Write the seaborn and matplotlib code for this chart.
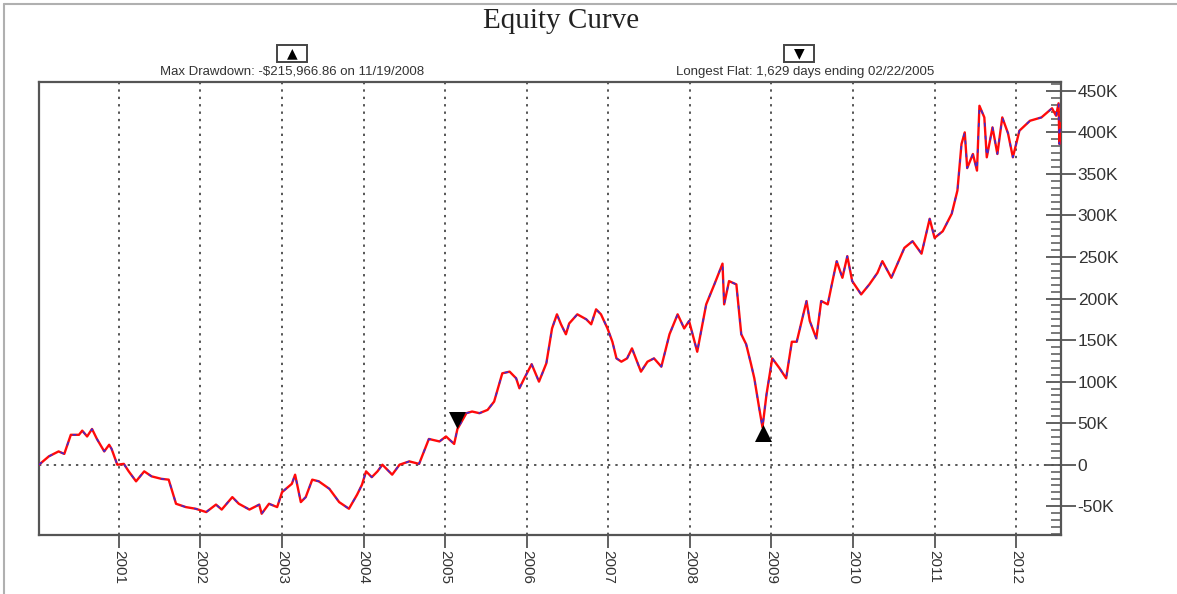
import matplotlib
matplotlib.use("Agg")
import matplotlib.pyplot as plt
from matplotlib.lines import Line2D
from matplotlib.patches import Rectangle
from matplotlib.ticker import AutoMinorLocator
import seaborn as sns
import pandas as pd

# equity curve (decimal year, equity in $K)
years = [2000.02, 2000.14, 2000.26, 2000.33, 2000.41, 2000.51, 2000.55, 2000.61, 2000.67, 2000.73, 2000.82, 2000.88, 2000.91, 2000.98,
         2001.06, 2001.12, 2001.21, 2001.31, 2001.40, 2001.52, 2001.61, 2001.70, 2001.82, 2001.94,
         2002.07, 2002.19, 2002.26, 2002.39, 2002.47, 2002.60, 2002.72, 2002.75, 2002.84, 2002.94,
         2003.00, 2003.12, 2003.16, 2003.23, 2003.29, 2003.37, 2003.45, 2003.58, 2003.70, 2003.82, 2003.92, 2003.98,
         2004.03, 2004.10, 2004.17, 2004.23, 2004.35, 2004.44, 2004.56, 2004.68, 2004.80, 2004.93,
         2005.01, 2005.11, 2005.15, 2005.26, 2005.33, 2005.42, 2005.52, 2005.60, 2005.70, 2005.79, 2005.87, 2005.91, 2005.97,
         2006.06, 2006.15, 2006.24, 2006.31, 2006.37, 2006.42, 2006.48, 2006.52, 2006.62, 2006.73, 2006.79, 2006.85, 2006.91, 2006.99,
         2007.05, 2007.10, 2007.16, 2007.23, 2007.29, 2007.40, 2007.48, 2007.56, 2007.65, 2007.75, 2007.85, 2007.93, 2007.99,
         2008.09, 2008.20, 2008.30, 2008.40, 2008.42, 2008.48, 2008.57, 2008.63, 2008.69, 2008.75, 2008.79, 2008.85, 2008.89, 2008.94,
         2009.01, 2009.10, 2009.18, 2009.25, 2009.31, 2009.43, 2009.47, 2009.55, 2009.61, 2009.69, 2009.74, 2009.80, 2009.87, 2009.93, 2009.99,
         2010.10, 2010.20, 2010.30, 2010.36, 2010.47, 2010.63, 2010.73, 2010.84, 2010.94,
         2011.00, 2011.10, 2011.21, 2011.28, 2011.33, 2011.37, 2011.40, 2011.47, 2011.52, 2011.55, 2011.61, 2011.64, 2011.71, 2011.77, 2011.83, 2011.90, 2011.96,
         2012.04, 2012.17, 2012.31, 2012.44, 2012.49, 2012.52, 2012.53, 2012.54]
equity_k = [0, 10, 16, 13, 36, 36, 41, 34, 43, 31, 16, 24, 19, 0,
            1, -8, -20, -8, -14, -17, -18, -47, -51, -53,
            -57, -48, -54, -39, -47, -54, -48, -59, -47, -51,
            -33, -23, -12, -45, -39, -18, -20, -29, -45, -53, -36, -24,
            -8, -15, -8, 0, -12, 0, 4, 1, 31, 28,
            34, 25, 43, 62, 64, 62, 66, 76, 110, 112, 104, 92, 104,
            121, 100, 122, 164, 181, 169, 157, 170, 181, 175, 169, 187, 181, 164,
            148, 128, 124, 128, 140, 112, 124, 128, 118, 157, 181, 164, 173,
            136, 193, 217, 242, 193, 221, 217, 157, 145, 121, 104, 68, 45, 85,
            128, 116, 104, 148, 148, 197, 173, 152, 197, 193, 217, 245, 225, 251, 221,
            205, 217, 231, 245, 225, 261, 269, 254, 296,
            273, 281, 302, 330, 386, 400, 357, 374, 354, 432, 418, 370, 406, 374, 418, 399, 370,
            402, 414, 418, 429, 420, 435, 386, 411]

year_ticks = list(range(2001, 2013))
y_ticks = list(range(-50, 451, 50))

# markers: end of longest flat, bottom of max drawdown
flat_year, flat_val = [2005.15], [54]
dd_year, dd_val = [2008.90], [38]

title = "Equity Curve"
dd_label = "Max Drawdown: -$215,966.86 on 11/19/2008"
flat_label = "Longest Flat: 1,629 days ending 02/22/2005"

sns.set_style("white")
plt.rcParams["font.family"] = ["Liberation Sans", "DejaVu Sans"]

W, H = 1177, 594
fig = plt.figure(figsize=(W / 100, H / 100), dpi=100)
ax = fig.add_axes([39 / W, 1 - 534.5 / H, (1061 - 39) / W, (534.5 - 81.7) / H])

df = pd.DataFrame({"year": years, "equity": equity_k})
sns.lineplot(data=df, x="year", y="equity", color="#ff0a0a", lw=1.7, ax=ax, zorder=3)
sns.lineplot(data=df, x="year", y="equity", color="#3b2bd6", lw=1.1,
             linestyle=(0, (2.5, 6)), ax=ax, zorder=4)

sns.scatterplot(x=flat_year, y=flat_val, marker="v", s=150, color="black", ax=ax, zorder=5, linewidth=0)
sns.scatterplot(x=dd_year, y=dd_val, marker="^", s=150, color="black", ax=ax, zorder=5, linewidth=0)

# dotted grid: years and the zero line
grid_kw = dict(color="#555555", lw=1.4, ls=(0, (1.2, 2.6)), zorder=1)
for yr in year_ticks:
    ax.axvline(yr, **grid_kw)
ax.axhline(0, **grid_kw)

ax.set_xlim(2000.02, 2012.55)
ax.set_ylim(-84, 461)
ax.set_xlabel("")
ax.set_ylabel("")

ax.set_xticks(year_ticks)
ax.set_xticklabels([str(y) for y in year_ticks], rotation=-90, color="#333333")
ax.tick_params(axis="x", direction="out", length=9, width=1.3, color="#555555",
               labelsize=11, pad=2, bottom=True)

ax.yaxis.tick_right()
ax.set_yticks(y_ticks)
ax.set_yticklabels([f"{v}K" if v != 0 else "0" for v in y_ticks], color="#333333")
ax.yaxis.set_minor_locator(AutoMinorLocator(6))
ax.tick_params(axis="y", which="major", direction="inout", length=22, width=1.3,
               color="#555555", labelsize=12.5, pad=1, right=True, left=False)
ax.tick_params(axis="y", which="minor", direction="in", length=7, width=1.1,
               color="#555555", right=True, left=False)

for sp in ax.spines.values():
    sp.set_color("#555555")
    sp.set_linewidth(1.6)
    sp.set_visible(True)

fig.text(561 / W, 1 - 21 / H, title, family="Liberation Serif", fontsize=21,
         ha="center", va="center", color="#222222")

# boxed arrows with labels above the plot
fig.text(292 / W, 1 - 72 / H, dd_label, fontsize=9.5, ha="center", va="center", color="#333333")
fig.text(805 / W, 1 - 72 / H, flat_label, fontsize=9.5, ha="center", va="center", color="#333333")
for cx, sym in [(292, "\u25B2"), (799, "\u25BC")]:
    fig.add_artist(Rectangle(((cx - 15) / W, 1 - 62 / H), 30 / W, 17 / H,
                             transform=fig.transFigure, fc="white", ec="#444444", lw=1.4))
    fig.text(cx / W, 1 - 53.5 / H, sym, family="DejaVu Sans", fontsize=10,
             ha="center", va="center", color="black")

# page frame lines
fig.add_artist(Line2D([4 / W, 4 / W], [0, 1 - 4 / H], transform=fig.transFigure, color="#b0b0b0", lw=1.5))
fig.add_artist(Line2D([4 / W, 1], [1 - 4 / H, 1 - 4 / H], transform=fig.transFigure, color="#b0b0b0", lw=1.5))

fig.savefig("out.png", dpi=100)
